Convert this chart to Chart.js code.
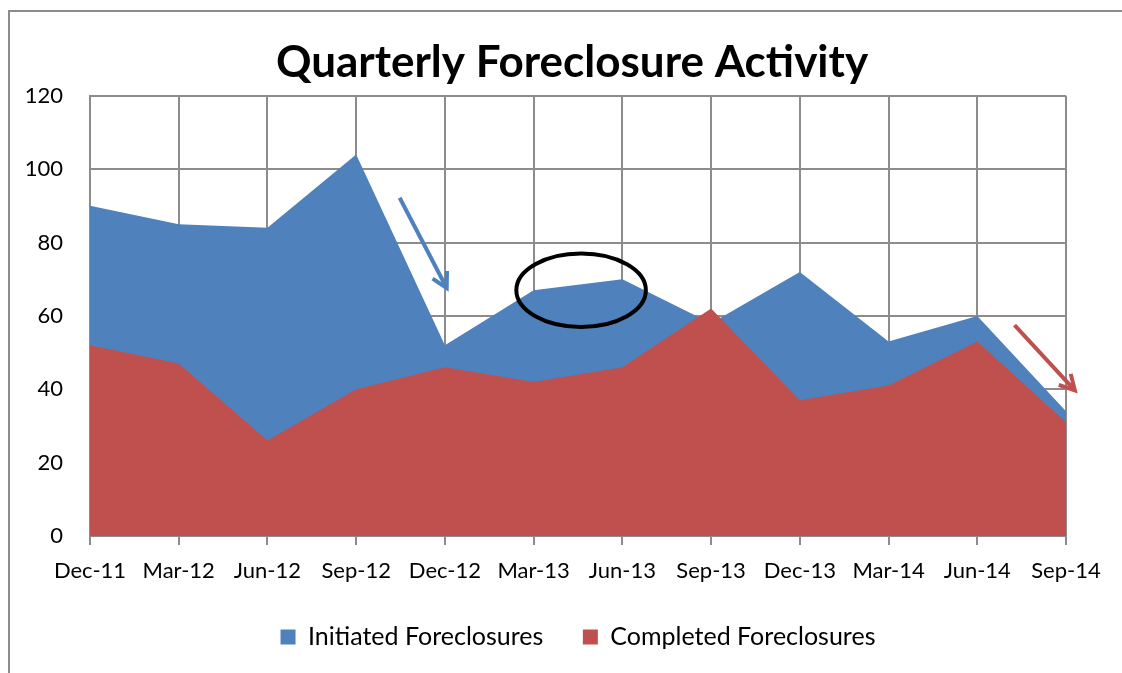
<!DOCTYPE html>
<html>
<head>
<meta charset="utf-8">
<script src="https://cdn.jsdelivr.net/npm/chart.js@4/dist/chart.umd.min.js"></script>
<style>
  html, body { margin: 0; padding: 0; background: #ffffff; overflow: hidden; }
  #frame { position: absolute; left: 8px; top: 10px; width: 1200px; height: 700px;
           border-left: 2px solid #8c8c8c; border-top: 2px solid #8c8c8c; }
  #wrap { position: absolute; left: 0; top: 0; width: 1122px; height: 673px; }
</style>
</head>
<body>
<div id="frame"></div>
<div id="wrap"><canvas id="c" width="1122" height="673"></canvas></div>
<script>
// ---- data ----
const categories = ["Dec-11","Mar-12","Jun-12","Sep-12","Dec-12","Mar-13","Jun-13","Sep-13","Dec-13","Mar-14","Jun-14","Sep-14"];
const initiated  = [90, 85, 84, 104, 52, 67, 70, 58, 72, 53, 60, 34];
const completed  = [52, 47, 26, 40, 46, 42, 46, 62, 37, 41, 53, 31];
const yTicks     = [0, 20, 40, 60, 80, 100, 120];
const titleText  = "Quarterly Foreclosure Activity";
const seriesNames = ["Initiated Foreclosures", "Completed Foreclosures"];
// annotations in data coordinates (category index, value)
const arrows = [
  { from: [3.49, 92.2], to: [4.02, 67.6], color: "#4F81BD" },
  { from: [10.42, 57.5], to: [11.1, 39.7], color: "#C0504D" }
];
const ellipses = [ { center: [5.535, 67], rx: 0.73, ry: 10 } ];

const BLUE = "#4F81BD", RED = "#C0504D", GRID = "#8c8c8c";
const FONT = "Lato";

const annotate = {
  id: "annotate",
  afterDatasetsDraw(chart) {
    const ctx = chart.ctx, xs = chart.scales.x, ys = chart.scales.y;
    const px = i => xs.getPixelForValue(0) + i * (xs.getPixelForValue(1) - xs.getPixelForValue(0));
    ctx.save();
    ctx.lineCap = "butt";
    arrows.forEach(a => {
      const x1 = px(a.from[0]), y1 = ys.getPixelForValue(a.from[1]);
      const x2 = px(a.to[0]), y2 = ys.getPixelForValue(a.to[1]);
      const ang = Math.atan2(y2 - y1, x2 - x1);
      ctx.strokeStyle = a.color; ctx.lineWidth = 4;
      ctx.beginPath(); ctx.moveTo(x1, y1); ctx.lineTo(x2, y2); ctx.stroke();
      const hl = 17, spread = 0.5;
      ctx.beginPath();
      ctx.moveTo(x2 - hl * Math.cos(ang - spread), y2 - hl * Math.sin(ang - spread));
      ctx.lineTo(x2, y2);
      ctx.lineTo(x2 - hl * Math.cos(ang + spread), y2 - hl * Math.sin(ang + spread));
      ctx.stroke();
    });
    ellipses.forEach(e => {
      const cx = px(e.center[0]), cy = ys.getPixelForValue(e.center[1]);
      const rx = px(e.center[0] + e.rx) - cx;
      const ry = cy - ys.getPixelForValue(e.center[1] + e.ry);
      ctx.strokeStyle = "#000000"; ctx.lineWidth = 4;
      ctx.beginPath(); ctx.ellipse(cx, cy, rx, ry, 0, 0, Math.PI * 2); ctx.stroke();
    });
    ctx.restore();
  }
};

new Chart(document.getElementById("c"), {
  type: "line",
  data: {
    labels: categories,
    datasets: [
      { label: seriesNames[0], data: initiated, order: 1, fill: "origin",
        backgroundColor: BLUE, borderColor: BLUE, borderWidth: 0, pointRadius: 0, tension: 0 },
      { label: seriesNames[1], data: completed, order: 0, fill: "origin",
        backgroundColor: RED, borderColor: RED, borderWidth: 0, pointRadius: 0, tension: 0 }
    ]
  },
  options: {
    responsive: false,
    animation: false,
    events: [],
    layout: { padding: { left: 22, right: 0, top: 0, bottom: 13.5 } },
    plugins: {
      title: { display: true, text: titleText, color: "#000000",
               font: { family: FONT, size: 44, weight: "bold" }, padding: { top: 36, bottom: 7 } },
      legend: { position: "bottom", fullSize: false,
        labels: { boxWidth: 15, boxHeight: 15, padding: 39.5, color: "#000000",
                  font: { family: FONT, size: 25 },
                  sort: (a, b) => a.datasetIndex - b.datasetIndex } },
      tooltip: { enabled: false }
    },
    scales: {
      x: {
        offset: false,
        afterFit: s => { s.height = 49; },
        grid: { color: GRID, lineWidth: 2, drawTicks: true, tickLength: 9, tickColor: GRID },
        border: { color: GRID, width: 2 },
        ticks: { color: "#000000", font: { family: FONT, size: 22 }, padding: 13, maxRotation: 0, autoSkip: false }
      },
      y: {
        min: 0, max: 120,
        afterBuildTicks: s => { s.ticks = yTicks.map(v => ({ value: v })); },
        afterFit: s => { s.width = 68; },
        grid: { color: GRID, lineWidth: 2, drawTicks: false },
        border: { color: GRID, width: 2 },
        ticks: { color: "#000000", font: { family: FONT, size: 22 }, padding: 27 }
      },
      spacer: {
        position: "right", display: true,
        afterFit: s => { s.width = 56; },
        grid: { display: false, drawTicks: false },
        border: { display: false },
        ticks: { display: false }
      }
    }
  },
  plugins: [annotate]
});
</script>
</body>
</html>
